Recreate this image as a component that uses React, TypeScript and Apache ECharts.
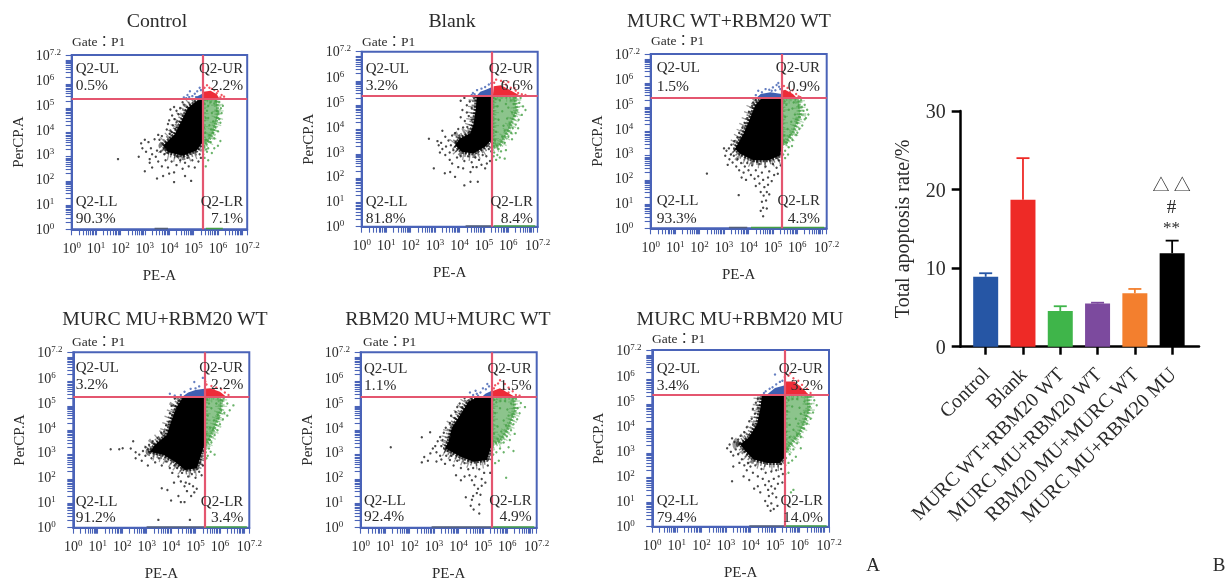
import React, { useEffect, useRef } from "react";
import * as echarts from "echarts";

type P = number[][];
const SERIF = "'Liberation Serif','Noto Serif','Noto Sans CJK TC',serif";
const TEXT = "#2b2b2b";
const BLUE = "#4a63b8";
const GATE = "#e4566f";
const DOT_BLACK = "#1c1c1c";
const DOT_GREEN = "#46a046";
const DOT_RED = "#ee2b38";
const DOT_BLUE = "#3f5fb2";

const panelTitles = ["Control", "Blank", "MURC WT+RBM20 WT", "MURC MU+RBM20 WT", "RBM20 MU+MURC WT", "MURC MU+RBM20 MU"];
const pctUL = ["0.5%", "3.2%", "1.5%", "3.2%", "1.1%", "3.4%"];
const pctUR = ["2.2%", "6.6%", "0.9%", "2.2%", "1.5%", "3.2%"];
const pctLL = ["90.3%", "81.8%", "93.3%", "91.2%", "92.4%", "79.4%"];
const pctLR = ["7.1%", "8.4%", "4.3%", "3.4%", "4.9%", "14.0%"];
const quadNames = ["Q2-UL", "Q2-UR", "Q2-LL", "Q2-LR"];
const gateLabel = "Gate：P1";
const gateX = [5.36, 5.33, 5.37, 5.37, 5.37, 5.38];
const gateY = [5.41, 5.39, 5.41, 5.38, 5.38, 5.37];
const logLabels = [0, 1, 2, 3, 4, 5, 6, 7.2];
// the reference draws its y labels slightly further apart than its x labels
const yLabelSpots = [0, 1.03, 2.05, 3.07, 4.09, 5.11, 6.14, 7.2];

// panel 1
const p1Core: P = [[5.36,5.38],[5.12,5.29],[4.77,5.02],[4.5,4.47],[4.23,3.93],[3.75,3.45],[3.96,3.18],[4.57,3.04],[5.12,3.25],[5.36,3.59]];
const p1Black: P = [[4.05,4.95],[4.2,5.05],[4.3,4.9],[4.12,4.7],[4.38,4.75],[4.0,4.5],[4.22,4.55],[3.95,4.35],[4.15,4.3],[4.3,4.42],[4.45,5.0],[4.6,5.15],[4.55,5.25],[3.9,4.12],[4.05,4.08],[4.25,4.15],[4.1,4.02],[2.85,3.55],[3.0,3.7],[3.15,3.6],[3.25,3.35],[3.4,3.72],[3.55,3.9],[3.05,3.2],[2.75,3.0],[3.3,3.1],[3.5,3.25],[3.6,3.7],[3.7,3.85],[3.45,3.0],[3.65,3.2],[3.2,2.9],[2.9,3.35],[3.8,3.1],[3.0,2.4],[3.2,2.75],[3.3,2.55],[3.55,2.8],[3.7,2.6],[3.85,2.85],[3.95,2.55],[4.1,2.8],[4.2,2.35],[4.3,2.65],[4.45,2.85],[4.55,2.5],[4.65,2.75],[4.8,2.6],[4.95,2.85],[5.05,2.55],[5.2,2.8],[5.3,2.95],[5.25,3.1],[3.75,2.2],[3.5,2.1],[4.2,1.95],[4.9,2.0],[1.9,2.9],[4.0,2.3],[4.65,2.2],[4.75,2.95],[4.35,3.0],[3.85,3.3],[3.72,3.55],[4.32,3.02],[4.02,3.95]];
const p1GreenCore: P = [[5.37,5.39],[5.95,5.39],[6.0,4.7],[5.78,3.95],[5.55,3.55],[5.37,3.45]];
const p1Green: P = [[5.45,3.4],[5.55,3.2],[5.7,3.6],[5.85,3.75],[6.0,4.05],[6.1,4.4],[6.15,4.8],[6.2,5.1],[6.05,5.25],[5.95,4.9],[6.05,4.55],[5.9,4.2],[5.8,4.45],[5.65,3.9],[5.5,3.7],[5.6,3.35],[5.45,2.95],[5.6,2.85],[5.5,2.6],[5.75,3.15],[5.4,3.1],[6.0,3.45],[6.1,3.65],[5.85,3.35],[6.12,5.0],[5.85,5.2],[5.6,5.1],[5.75,4.8],[5.5,4.6],[5.65,4.3],[5.42,4.2],[5.8,4.0],[5.55,4.9],[5.7,5.25],[5.45,5.2],[5.95,4.6],[5.6,4.6],[5.9,5.3],[5.48,4.0],[5.72,4.12],[6.02,4.82],[5.52,3.3]];
const p1RedCore: P = [[5.37,5.41],[6.05,5.41],[5.95,5.58],[5.7,5.72],[5.4,5.68]];
const p1Red: P = [[6.1,5.45],[6.15,5.55],[6.0,5.7],[5.85,5.75],[5.65,5.85],[5.45,5.85],[5.55,5.95],[6.25,5.48],[5.75,5.8],[5.95,5.62]];
const p1BlueCore: P = [[5.05,5.41],[5.36,5.41],[5.36,5.6],[5.15,5.5]];
const p1Blue: P = [[4.6,5.45],[4.75,5.55],[4.85,5.7],[4.95,5.5],[5.05,5.6],[5.15,5.7],[4.7,5.42],[5.25,5.85],[5.1,5.46],[5.3,5.75],[4.82,5.46]];
const p1Edge: P = [[5.5,0.03],[6.2,0.03]];
const p1DarkEdge: P = [[3.4,0.03],[3.95,0.03]];

// panel 2
const p2Core: P = [[5.35,5.38],[4.71,5.38],[4.67,4.86],[4.58,4.25],[4.44,3.84],[4.02,3.63],[3.82,3.36],[4.09,3.08],[4.57,3.01],[5.05,3.29],[5.35,3.63]];
const p2Black: P = [[4.05,5.18],[4.2,5.3],[4.3,5.0],[4.42,5.15],[4.5,4.88],[4.12,4.8],[4.3,4.7],[4.05,4.5],[4.22,4.35],[4.38,4.55],[4.5,4.4],[4.15,4.08],[4.32,4.1],[3.95,4.02],[4.6,5.28],[3.3,3.95],[3.42,3.7],[3.55,3.55],[3.25,3.45],[3.1,3.52],[3.3,3.2],[3.45,3.3],[3.6,3.05],[3.7,3.75],[3.65,3.35],[3.82,3.85],[3.2,3.05],[3.42,2.95],[3.75,3.15],[3.9,2.85],[4.05,2.9],[4.2,2.7],[4.35,2.9],[4.5,2.65],[4.65,2.85],[4.8,2.75],[4.95,2.95],[5.1,2.9],[5.25,2.7],[5.3,3.1],[5.2,3.2],[2.75,3.62],[2.95,2.4],[3.4,2.2],[3.62,2.25],[3.82,2.05],[3.95,2.45],[4.15,2.4],[4.45,2.25],[4.7,2.45],[4.9,2.55],[4.2,1.7],[4.45,1.85],[4.75,1.85],[5.05,2.4],[3.7,2.6],[3.6,2.75],[4.55,2.45],[3.15,3.35],[3.85,3.5],[4.0,3.75],[5.12,2.6]];
const p2GreenCore: P = [[5.37,5.39],[6.25,5.39],[6.35,4.8],[6.0,3.95],[5.65,3.35],[5.37,3.25]];
const p2Green: P = [[6.45,5.1],[6.6,4.95],[6.7,4.8],[6.55,4.6],[6.42,4.4],[6.3,4.2],[6.18,4.05],[6.0,3.7],[5.85,3.45],[5.7,3.1],[5.9,3.15],[6.15,3.6],[6.3,3.85],[5.55,2.95],[5.5,2.75],[5.4,2.9],[5.65,2.85],[5.85,2.8],[5.42,3.05],[6.3,5.3],[6.5,5.3],[6.1,5.2],[5.9,5.05],[5.75,4.75],[6.15,4.7],[5.95,4.45],[5.55,4.95],[5.6,4.4],[5.8,4.15],[6.05,4.25],[5.5,3.9],[5.75,3.7],[5.45,3.55],[6.25,4.55],[5.65,5.2],[6.0,4.9],[5.85,3.95],[6.4,4.05],[5.48,5.25],[6.22,5.05],[6.12,3.85],[5.6,3.2]];
const p2RedCore: P = [[5.37,5.41],[6.45,5.41],[6.1,5.6],[5.7,5.82],[5.4,5.78]];
const p2Red: P = [[6.55,5.45],[6.7,5.42],[6.3,5.6],[6.1,5.72],[5.9,5.85],[5.7,6.0],[5.5,6.05],[5.42,5.92],[6.0,5.95],[5.8,5.95],[6.4,5.5],[6.25,5.7]];
const p2BlueCore: P = [[4.72,5.41],[5.34,5.41],[5.34,5.75],[5.05,5.62],[4.85,5.55]];
const p2Blue: P = [[4.55,5.5],[4.62,5.45],[4.72,5.62],[4.9,5.68],[5.05,5.75],[5.2,5.85],[5.3,5.9],[4.5,5.42]];
const p2Edge: P = [[5.4,0.03],[7.1,0.03]];
const p2DarkEdge: P = [[4.25,0.03],[5.3,0.03]];

// panel 3
const p3Core: P = [[5.36,5.38],[4.54,5.38],[4.27,5.07],[4.0,4.38],[3.79,3.9],[3.45,3.29],[3.66,3.08],[4.2,2.81],[4.82,2.81],[5.29,3.01],[5.36,3.42]];
const p3Black: P = [[4.3,5.3],[4.15,5.05],[4.02,4.8],[4.2,5.2],[3.95,4.55],[3.85,4.35],[3.75,4.15],[3.62,3.95],[3.55,3.75],[3.42,3.6],[3.3,3.45],[3.2,3.3],[3.1,3.2],[3.28,3.05],[3.0,3.3],[3.05,3.0],[3.22,2.85],[3.4,3.0],[3.55,2.85],[3.35,2.72],[3.5,2.55],[3.7,2.7],[3.62,2.4],[3.85,2.55],[3.95,2.7],[3.8,2.3],[4.0,2.4],[4.15,2.6],[4.1,2.2],[4.3,2.4],[4.45,2.65],[4.55,2.3],[4.7,2.55],[4.85,2.35],[5.0,2.65],[5.15,2.5],[5.25,2.8],[5.32,2.6],[4.25,2.05],[4.4,2.15],[4.6,2.0],[4.8,2.1],[4.95,1.95],[5.05,2.2],[4.3,1.75],[4.45,1.85],[4.65,1.7],[4.8,1.8],[4.5,1.5],[4.62,1.35],[4.75,1.5],[4.85,1.4],[4.55,1.1],[4.72,1.15],[4.6,0.85],[4.5,0.72],[4.75,0.82],[4.6,0.5],[3.6,1.37],[2.3,2.26],[3.9,2.0],[3.72,2.1],[3.15,2.62],[5.2,2.25],[4.35,2.75]];
const p3GreenCore: P = [[5.37,5.39],[6.05,5.39],[6.12,4.7],[5.85,4.0],[5.55,3.55],[5.37,3.45]];
const p3Green: P = [[6.15,5.3],[6.3,5.1],[6.4,4.9],[6.45,4.7],[6.3,4.5],[6.2,4.25],[6.08,4.1],[5.95,3.85],[5.8,3.65],[5.65,3.35],[5.5,3.2],[5.42,3.05],[5.5,2.9],[5.62,3.05],[5.78,3.4],[6.0,3.95],[6.25,4.85],[6.05,5.05],[5.85,5.2],[5.65,4.9],[5.9,4.7],[5.75,4.4],[5.5,4.6],[5.55,5.1],[6.0,4.35],[5.6,4.1],[5.45,3.85],[5.8,4.95],[6.1,4.6],[5.7,3.85],[5.48,5.25],[5.95,4.5],[6.35,4.55],[5.58,3.55],[5.42,3.6],[6.18,5.0]];
const p3RedCore: P = [[5.37,5.41],[5.95,5.41],[5.82,5.55],[5.5,5.72],[5.37,5.68]];
const p3Red: P = [[6.05,5.45],[5.95,5.55],[5.8,5.7],[5.6,5.8],[5.45,5.88],[5.7,5.62],[6.12,5.42]];
const p3BlueCore: P = [[4.35,5.41],[5.36,5.41],[5.36,5.55],[4.9,5.62],[4.5,5.55]];
const p3Blue: P = [[4.3,5.5],[4.4,5.68],[4.55,5.62],[4.7,5.75],[4.85,5.72],[5.0,5.82],[5.1,5.7],[5.22,6.0],[5.25,5.85],[5.15,5.92],[5.3,5.75],[4.95,5.68]];
const p3Edge: P = [[4.1,0.03],[7.1,0.03]];
const p3DarkEdge: P = [[3.2,0.03],[3.95,0.03]];

// panel 4
const p4Core: P = [[5.36,5.38],[4.5,5.38],[4.23,4.97],[4.02,4.42],[3.82,3.81],[3.34,3.4],[3.14,3.12],[3.68,2.99],[4.16,2.71],[4.57,2.37],[5.05,2.44],[5.36,3.4]];
const p4Black: P = [[4.15,5.3],[4.3,5.2],[4.02,5.0],[4.18,4.85],[3.95,4.7],[4.05,4.6],[3.9,4.35],[3.8,4.2],[3.72,3.95],[3.6,3.9],[3.45,3.68],[3.25,3.55],[3.1,3.4],[2.95,3.3],[2.85,3.15],[2.7,3.0],[2.55,3.1],[2.45,3.55],[2.55,2.85],[2.8,2.75],[2.95,2.95],[3.05,2.55],[3.2,2.85],[3.35,2.68],[3.5,2.85],[3.62,2.55],[3.8,2.72],[3.95,2.45],[4.05,2.25],[4.25,2.45],[4.3,2.1],[4.45,2.25],[4.4,1.9],[4.55,1.7],[4.7,2.1],[4.85,2.2],[5.0,2.05],[5.15,2.3],[5.2,2.7],[5.3,2.55],[4.6,1.85],[4.75,1.8],[4.9,1.7],[4.65,1.5],[4.82,1.3],[4.95,1.45],[5.05,1.6],[4.3,1.3],[4.4,1.05],[3.62,1.62],[3.85,1.55],[4.0,1.12],[4.55,1.05],[1.53,3.22],[1.88,3.22],[2.02,3.26],[3.48,0.32],[4.77,0.32],[2.35,3.25],[3.05,3.22],[5.25,2.15],[4.15,2.55],[4.12,1.85]];
const p4GreenCore: P = [[5.37,5.39],[6.05,5.39],[6.05,4.9],[5.82,4.2],[5.55,3.6],[5.37,3.3]];
const p4Green: P = [[6.15,5.3],[6.3,5.1],[6.55,5.02],[6.4,4.82],[6.3,4.6],[6.12,4.45],[6.0,4.25],[5.9,4.0],[5.78,3.8],[5.65,3.5],[5.55,3.25],[5.42,3.1],[5.5,2.95],[5.78,3.0],[5.62,3.12],[5.45,2.85],[6.05,4.8],[5.85,5.1],[5.65,4.9],[5.9,4.65],[5.75,4.4],[5.5,4.6],[5.55,5.1],[6.1,5.2],[5.6,4.1],[5.45,3.85],[5.72,4.05],[6.18,4.72],[5.48,5.25],[5.95,4.5],[5.58,3.6],[5.42,3.6]];
const p4RedCore: P = [[5.37,5.41],[6.22,5.41],[6.0,5.58],[5.6,5.72],[5.37,5.7]];
const p4Red: P = [[6.35,5.45],[6.2,5.55],[6.05,5.68],[5.85,5.75],[5.65,5.82],[5.45,5.88],[5.4,6.0],[5.75,5.7]];
const p4BlueCore: P = [[4.5,5.41],[5.36,5.41],[5.36,5.7],[5.0,5.65],[4.7,5.55]];
const p4Blue: P = [[3.95,5.5],[4.15,5.42],[4.4,5.45],[4.55,5.58],[4.8,5.7],[5.0,5.72],[4.95,5.98],[5.15,5.8],[5.3,6.15]];
const p4Edge: P = [[5.37,0.03],[7.1,0.03]];
const p4DarkEdge: P = [[3.0,0.03],[5.37,0.03]];

// panel 5
const p5Core: P = [[5.36,5.38],[4.82,5.38],[4.41,5.18],[4.07,4.63],[3.72,4.08],[3.59,3.53],[3.45,3.26],[4.07,2.92],[4.61,2.71],[5.16,2.78],[5.36,3.4]];
const p5Black: P = [[4.25,5.32],[4.05,5.1],[3.95,4.95],[4.15,4.95],[3.88,4.75],[3.7,4.6],[3.85,4.5],[3.65,4.3],[3.48,4.1],[3.4,3.9],[3.25,3.72],[3.35,3.6],[3.15,3.55],[3.05,3.35],[2.95,3.25],[2.85,3.05],[2.6,2.9],[2.5,2.68],[2.75,2.75],[3.1,3.1],[3.25,2.95],[3.1,2.72],[3.3,2.8],[3.5,2.95],[3.45,2.62],[3.65,2.78],[3.8,2.55],[3.95,2.75],[4.1,2.45],[4.25,2.65],[4.4,2.4],[4.45,2.15],[4.6,2.45],[4.55,1.95],[4.7,2.1],[4.85,2.4],[4.95,2.0],[5.05,2.25],[5.2,2.55],[5.3,2.25],[4.65,1.75],[4.8,1.6],[4.95,1.72],[5.1,1.85],[4.6,1.3],[4.75,1.42],[4.9,1.35],[4.3,1.25],[4.55,1.15],[4.85,0.95],[4.5,0.9],[4.85,0.58],[4.62,0.75],[1.23,3.3],[2.5,3.71],[2.84,3.92],[3.65,3.75],[3.3,3.35],[3.55,3.15],[3.7,2.95],[3.9,2.15],[4.1,1.95],[4.25,2.1]];
const p5GreenCore: P = [[5.37,5.39],[6.25,5.39],[6.32,4.8],[6.0,4.0],[5.7,3.55],[5.37,3.4]];
const p5Green: P = [[6.35,5.3],[6.55,5.12],[6.72,4.95],[6.5,4.7],[6.4,4.45],[6.25,4.25],[6.15,4.0],[5.98,3.75],[5.85,3.5],[5.7,3.25],[5.55,3.1],[5.42,3.0],[6.05,3.3],[6.25,3.15],[5.85,3.1],[5.5,2.65],[5.65,2.75],[5.95,2.05],[6.1,3.6],[6.3,3.85],[6.15,5.1],[5.9,5.2],[5.7,4.9],[6.05,4.6],[5.85,4.4],[5.5,4.7],[5.55,5.15],[6.2,4.65],[5.6,4.15],[5.45,3.85],[5.75,3.95],[6.0,4.85],[5.45,5.25],[5.95,4.2],[5.6,3.65],[5.42,3.55],[6.42,4.9],[5.72,5.2]];
const p5RedCore: P = [[5.37,5.41],[6.25,5.41],[6.0,5.55],[5.7,5.72],[5.37,5.6]];
const p5Red: P = [[6.35,5.45],[6.5,5.42],[6.22,5.6],[6.05,5.75],[5.9,5.9],[5.7,6.05],[5.5,5.85],[5.62,5.92],[5.45,5.72],[5.85,5.68],[6.05,5.55]];
const p5BlueCore: P = [[5.0,5.41],[5.36,5.41],[5.36,5.62],[5.1,5.5]];
const p5Blue: P = [[4.47,5.55],[4.6,5.45],[4.7,5.62],[4.8,5.42],[4.9,5.55],[5.0,5.72],[5.12,5.68],[5.25,5.8],[4.75,5.5],[5.18,5.9]];
const p5Edge: P = [[5.37,0.03],[7.1,0.03]];
const p5DarkEdge: P = [[2.9,0.03],[5.37,0.03]];

// panel 6
const p6Core: P = [[5.37,5.39],[4.47,5.39],[4.41,4.86],[4.27,4.18],[3.93,3.63],[3.59,3.36],[3.79,3.08],[4.13,2.74],[4.68,2.6],[5.2,2.6],[5.37,2.81]];
const p6Black: P = [[4.3,5.2],[4.22,5.05],[4.3,4.85],[4.1,4.8],[4.18,4.6],[4.05,4.4],[3.95,4.3],[4.1,4.15],[3.85,4.05],[3.75,3.85],[3.6,3.7],[3.5,3.55],[3.35,3.45],[3.25,3.6],[3.15,3.35],[3.05,3.2],[3.2,3.05],[3.4,3.15],[3.5,2.95],[3.3,2.9],[3.65,2.75],[3.55,2.6],[3.75,2.5],[3.9,2.6],[3.85,2.3],[4.0,2.45],[4.1,2.2],[4.2,2.5],[4.3,2.05],[4.45,2.35],[4.5,1.95],[4.62,2.2],[4.75,1.85],[4.85,2.25],[4.95,1.95],[5.05,2.3],[5.15,2.05],[5.25,2.35],[5.32,2.15],[5.3,1.8],[4.6,1.7],[4.72,1.5],[4.85,1.65],[5.0,1.55],[5.12,1.75],[4.9,1.35],[5.05,1.2],[4.75,1.25],[4.6,1.05],[4.85,0.95],[4.95,0.72],[4.82,0.65],[5.1,0.85],[4.7,0.85],[3.25,1.85],[4.3,1.65],[4.4,1.4],[4.15,1.55],[3.72,2.05],[3.95,1.9],[3.3,2.45],[5.25,2.55]];
const p6GreenCore: P = [[5.38,5.39],[6.35,5.39],[6.38,4.7],[6.0,3.8],[5.6,3.3],[5.38,3.0]];
const p6Green: P = [[6.45,5.3],[6.6,5.15],[6.7,4.95],[6.55,4.65],[6.45,4.4],[6.3,4.2],[6.18,4.0],[6.05,3.65],[5.9,3.4],[5.75,3.15],[5.6,2.95],[5.45,2.8],[5.42,2.5],[5.55,2.6],[5.7,2.7],[5.85,2.85],[6.05,3.2],[5.42,2.15],[5.55,2.2],[5.65,1.4],[5.75,1.5],[6.2,5.1],[5.9,5.2],[5.7,4.9],[6.05,4.6],[5.85,4.4],[5.5,4.7],[5.55,5.15],[6.2,4.65],[5.6,4.15],[5.45,3.85],[5.75,3.95],[6.0,4.85],[5.45,5.25],[5.95,4.2],[5.6,3.65],[5.42,3.55],[6.42,4.9],[5.72,5.2],[6.25,4.4],[5.52,3.15],[5.9,3.75]];
const p6RedCore: P = [[5.38,5.41],[6.35,5.41],[6.15,5.6],[5.8,5.92],[5.38,5.92]];
const p6Red: P = [[6.45,5.45],[6.3,5.62],[6.1,5.78],[5.95,5.95],[5.75,6.05],[5.55,6.15],[5.4,6.1],[5.62,6.25],[6.0,5.7],[6.2,5.5]];
const p6BlueCore: P = [[4.7,5.41],[5.37,5.41],[5.37,5.75],[5.0,5.65]];
const p6Blue: P = [[4.55,5.45],[4.62,5.52],[4.78,5.62],[4.9,5.68],[5.05,5.8],[5.2,5.9],[5.0,6.2],[5.3,5.95]];
const p6Edge: P = [[5.4,0.03],[7.1,0.03]];
const p6DarkEdge: P = [[3.95,0.03],[5.37,0.03]];

const cores = [p1Core, p2Core, p3Core, p4Core, p5Core, p6Core];
const blacks = [p1Black, p2Black, p3Black, p4Black, p5Black, p6Black];
const greenCores = [p1GreenCore, p2GreenCore, p3GreenCore, p4GreenCore, p5GreenCore, p6GreenCore];
const greens = [p1Green, p2Green, p3Green, p4Green, p5Green, p6Green];
const redCores = [p1RedCore, p2RedCore, p3RedCore, p4RedCore, p5RedCore, p6RedCore];
const reds = [p1Red, p2Red, p3Red, p4Red, p5Red, p6Red];
const blueCores = [p1BlueCore, p2BlueCore, p3BlueCore, p4BlueCore, p5BlueCore, p6BlueCore];
const blues = [p1Blue, p2Blue, p3Blue, p4Blue, p5Blue, p6Blue];
const greenEdges = [p1Edge, p2Edge, p3Edge, p4Edge, p5Edge, p6Edge];
const darkEdges = [p1DarkEdge, p2DarkEdge, p3DarkEdge, p4DarkEdge, p5DarkEdge, p6DarkEdge];

// bar chart
const barCategories = ["Control", "Blank", "MURC WT+RBM20 WT", "MURC MU+RBM20 WT", "RBM20 MU+MURC WT", "MURC MU+RBM20 MU"];
const barValues = [8.9, 18.7, 4.55, 5.5, 6.8, 11.9];
const barErrorTops = [9.35, 24.0, 5.15, 5.6, 7.35, 13.5];
const barColors = ["#2656a5", "#ee2a26", "#3fb54a", "#7c4a9e", "#f37f2e", "#000000"];
const barTicks = [0, 10, 20, 30];

// layout: [left, top, width, height] per panel
const layouts = [
  [71.7, 55, 175.5, 174.3], [361.7, 51.7, 176, 175], [650.7, 54, 176, 174.3],
  [73.3, 352.3, 176, 175.4], [360.7, 352.3, 176, 175.4], [652.3, 350, 176.7, 176.7],
];
const titleCenters = [[157, 20], [452, 20], [729, 20], [165, 318], [448, 318], [740, 318]];
const gatePos = [[72, 41], [362, 41], [651, 40], [72, 341], [363, 341], [652, 338]];
// inset from plot edges: left, right, top row 1, top row 2, bottom row 1, bottom row 2
const quadInsets = [
  [4, 4, 12.7, 29.3, 28, 11.7], [4, 4.7, 16, 33, 25.7, 9.5], [6, 6.7, 13, 31, 28, 11],
  [2.4, 6, 15, 31, 27, 11], [3.3, 5, 15.4, 32, 27.7, 12], [4.4, 6, 17.7, 34, 26.7, 10],
];

const minorTicks: number[] = [];
for (let d = 0; d < 8; d++) {
  for (let k = 1; k < 10; k++) {
    const v = d + Math.log10(k);
    if (v <= 7.2) minorTicks.push(Number(v.toFixed(3)));
  }
}
minorTicks.push(7.2);

// Dense part of a cloud: a filled outline, plus soft stippled rims clipped to the cloud's quadrant.
const cloudSeries = (i: number, pts: P, fill: string, opacity: number, quad: number[][], rimScale: number) => ({
  type: "custom",
  xAxisIndex: i,
  yAxisIndex: i,
  silent: true,
  data: pts,
  renderItem: (params: any, api: any) => {
    if (params.dataIndex !== 0) return null;
    const points = pts.map((p) => api.coord(p));
    const a = api.coord(quad[0]);
    const b = api.coord(quad[1]);
    const clipPath = {
      type: "rect",
      shape: { x: Math.min(a[0], b[0]), y: Math.min(a[1], b[1]), width: Math.abs(a[0] - b[0]), height: Math.abs(a[1] - b[1]) },
    };
    const rim = (lineWidth: number, dash: number[], o: number) => ({
      type: "polygon",
      shape: { points },
      clipPath,
      style: { fill: "none", stroke: fill, lineWidth: lineWidth * rimScale, lineDash: dash, lineJoin: "round", opacity: o },
    });
    return {
      type: "group",
      children: [
        rim(16, [1.3, 5.2], 0.4),
        rim(9, [1.5, 2.6], 0.5),
        rim(4, [2, 1.2], 0.75),
        { type: "polygon", shape: { points }, style: { fill, opacity } },
      ],
    };
  },
});
const polygonSeries = (i: number, pts: P, fill: string) => ({
  type: "custom",
  xAxisIndex: i,
  yAxisIndex: i,
  silent: true,
  data: pts,
  renderItem: (params: any, api: any) =>
    params.dataIndex === 0
      ? { type: "polygon", shape: { points: pts.map((p) => api.coord(p)) }, style: { fill } }
      : null,
});
const dots = (i: number, pts: P, color: string, size = 2.4) => ({
  type: "scatter",
  xAxisIndex: i,
  yAxisIndex: i,
  silent: true,
  symbolSize: size,
  itemStyle: { color },
  data: pts,
});
const edge = (i: number, pts: P, color: string) => ({
  type: "line",
  xAxisIndex: i,
  yAxisIndex: i,
  silent: true,
  symbol: "none",
  lineStyle: { color, width: 1.5 },
  data: pts,
});

function buildOption() {
  const grids: any[] = [];
  const xAxes: any[] = [];
  const yAxes: any[] = [];
  const series: any[] = [];
  const graphics: any[] = [];
  const text = (t: string, x: number, y: number, fontSize: number, align = "left", extra: any = {}) =>
    graphics.push({
      type: "text",
      x,
      y,
      z: 50,
      silent: true,
      style: { text: t, fontFamily: SERIF, fontSize, fill: TEXT, align, verticalAlign: "middle", ...extra },
    });

  layouts.forEach(([left, top, width, height], i) => {
    grids.push({ left, top, width, height, show: true, borderColor: BLUE, borderWidth: 2, backgroundColor: "#fff", outerBoundsMode: "none" });
    const base = {
      type: "value",
      gridIndex: i,
      min: 0,
      max: 7.2,
      splitLine: { show: false },
      axisLine: { show: true, lineStyle: { color: BLUE, width: 2 } },
      axisTick: { show: true, customValues: minorTicks, length: 6, lineStyle: { color: BLUE, width: 1.1 } },
      nameLocation: "middle",
      nameMoveOverlap: false,
      nameTextStyle: { fontFamily: SERIF, fontSize: 15, color: TEXT },
    };
    const rich = {
      b: { fontFamily: SERIF, fontSize: 14, color: TEXT, lineHeight: 16 },
      s: { fontFamily: SERIF, fontSize: 9, color: TEXT, lineHeight: 16, verticalAlign: "top" },
    };
    xAxes.push({
      ...base,
      name: "PE-A",
      nameGap: 38,
      axisLabel: { customValues: logLabels, hideOverlap: false, margin: 11, rich, formatter: (v: number) => `{b|10}{s|${v}}` },
    });
    yAxes.push({
      ...base,
      name: "PerCP.A",
      nameGap: 46.5,
      axisLabel: {
        customValues: yLabelSpots,
        hideOverlap: false,
        align: "left",
        margin: 36,
        rich,
        formatter: (v: number) => `{b|10}{s|${logLabels[yLabelSpots.indexOf(v)]}}`,
      },
    });

    const gx = gateX[i];
    const gy = gateY[i];
    series.push(cloudSeries(i, greenCores[i], DOT_GREEN, 0.62, [[gx, 0], [7.2, gy]], 0.75));
    series.push(dots(i, greens[i], DOT_GREEN));
    series.push(cloudSeries(i, cores[i], "#000", 1, [[0, 0], [gx, gy]], 1));
    series.push(dots(i, blacks[i], DOT_BLACK));
    series.push(polygonSeries(i, redCores[i], DOT_RED));
    series.push(dots(i, reds[i], DOT_RED));
    series.push(polygonSeries(i, blueCores[i], DOT_BLUE));
    series.push(edge(i, greenEdges[i], DOT_GREEN));
    series.push(edge(i, darkEdges[i], "#55607a"));
    series.push({
      ...dots(i, blues[i], DOT_BLUE),
      markLine: {
        silent: true,
        symbol: "none",
        label: { show: false },
        animation: false,
        lineStyle: { color: GATE, width: 2.2, type: "solid" },
        data: [{ xAxis: gx }, { yAxis: gy }],
      },
    });

    text(panelTitles[i], titleCenters[i][0], titleCenters[i][1], 19.8, "center");
    text(gateLabel, gatePos[i][0], gatePos[i][1], 13.5);
    const [il, ir, t1, t2, b1, b2] = quadInsets[i];
    const right = left + width - ir;
    const bottom = top + height;
    text(quadNames[0], left + il, top + t1, 15);
    text(pctUL[i], left + il, top + t2, 15.5);
    text(quadNames[1], right, top + t1, 15, "right");
    text(pctUR[i], right, top + t2, 15.5, "right");
    text(quadNames[2], left + il, bottom - b1, 15);
    text(pctLL[i], left + il, bottom - b2, 15.5);
    text(quadNames[3], right, bottom - b1, 15, "right");
    text(pctLR[i], right, bottom - b2, 15.5, "right");
  });

  // bar panel
  const b = layouts.length;
  grids.push({ left: 960.7, top: 111, width: 238.3, height: 235.7, outerBoundsMode: "none" });
  xAxes.push({
    type: "value",
    gridIndex: b,
    min: 0.33,
    max: 6.72,
    splitLine: { show: false },
    axisLine: { show: true, lineStyle: { color: "#000", width: 2.5 } },
    axisTick: { show: true, customValues: [1, 2, 3, 4, 5, 6], length: 8, lineStyle: { color: "#000", width: 2.5 } },
    axisLabel: {
      customValues: [1, 2, 3, 4, 5, 6],
      hideOverlap: false,
      rotate: 45,
      margin: 24,
      fontFamily: SERIF,
      fontSize: 20,
      color: TEXT,
      formatter: (v: number) => barCategories[v - 1],
    },
  });
  yAxes.push({
    type: "value",
    gridIndex: b,
    min: 0,
    max: 30,
    interval: 10,
    splitLine: { show: false },
    axisLine: { show: true, lineStyle: { color: "#000", width: 2.5 } },
    axisTick: { show: true, length: 9, lineStyle: { color: "#000", width: 2.5 } },
    axisLabel: {
      customValues: barTicks,
      margin: 15,
      fontFamily: SERIF,
      fontSize: 20,
      color: TEXT,
    },
    name: "Total apoptosis rate/%",
    nameLocation: "middle",
    nameGap: 49,
    nameMoveOverlap: false,
    nameTextStyle: { fontFamily: SERIF, fontSize: 20, color: TEXT },
  });
  const barPoints = barValues.map((v, k) => [k + 1, v]);
  series.push({
    type: "custom",
    xAxisIndex: b,
    yAxisIndex: b,
    silent: true,
    z: 1,
    data: barPoints.map((p, k) => [p[0], p[1], barErrorTops[k]]),
    encode: { x: 0, y: [1, 2] },
    renderItem: (params: any, api: any) => {
      const x = api.value(0);
      const lo = api.coord([x, api.value(1)]);
      const hi = api.coord([x, api.value(2)]);
      const style = { stroke: barColors[params.dataIndex], lineWidth: 1.8, fill: "none" };
      return {
        type: "group",
        children: [
          { type: "line", shape: { x1: lo[0], y1: lo[1], x2: hi[0], y2: hi[1] }, style },
          { type: "line", shape: { x1: hi[0] - 6.5, y1: hi[1], x2: hi[0] + 6.5, y2: hi[1] }, style },
        ],
      };
    },
  });
  series.push({
    type: "bar",
    xAxisIndex: b,
    yAxisIndex: b,
    silent: true,
    barWidth: 25,
    z: 2,
    data: barPoints.map((p, k) => ({ value: p, itemStyle: { color: barColors[k] } })),
  });
  text("△ △", 1171.7, 185, 17, "center");
  text("#", 1171.5, 206.5, 19, "center");
  text("**", 1171.5, 227, 17, "center");
  text("A", 873, 564, 19, "center");
  text("B", 1219, 564, 19, "center");

  return {
    animation: false,
    backgroundColor: "#fff",
    grid: grids,
    xAxis: xAxes,
    yAxis: yAxes,
    series,
    graphic: graphics,
  };
}

export default function App() {
  const ref = useRef<HTMLDivElement>(null);
  useEffect(() => {
    document.body.style.margin = "0";
    const chart = echarts.init(ref.current!, undefined, { renderer: "svg" });
    chart.setOption(buildOption() as any);
    return () => chart.dispose();
  }, []);
  return <div ref={ref} style={{ width: 1230, height: 581, filter: "blur(0.45px)" }} />;
}
